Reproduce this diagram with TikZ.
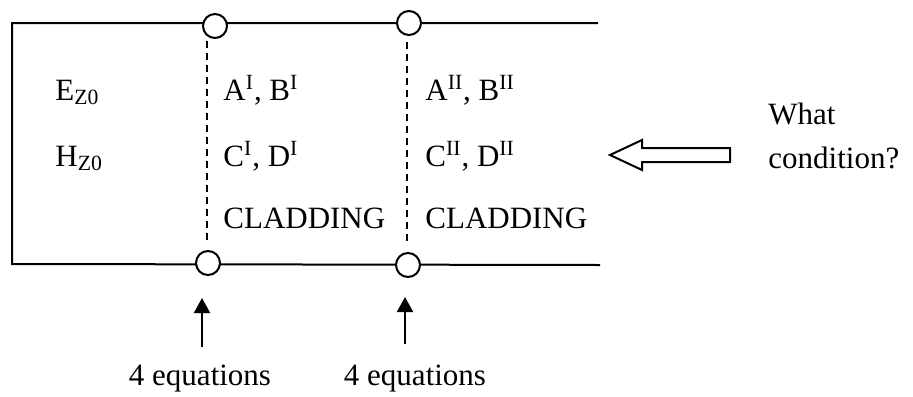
\documentclass[tikz,border=0pt]{standalone}
\usepackage{fontspec}
\setmainfont{Liberation Serif}
\usetikzlibrary{arrows.meta}
\begin{document}
\begin{tikzpicture}[x=0.5pt,y=-0.5pt,
  wire/.style={line width=1pt},
  joint/.style={circle,draw,line width=1pt,fill=white,minimum size=12pt,inner sep=0pt},
  bound/.style={line width=0.75pt,dash pattern=on 3.5pt off 2.5pt},
  lbl/.style={anchor=base west,inner sep=0pt,font=\fontsize{15.5}{18}\selectfont},
  eqn/.style={anchor=base,inner sep=0pt,font=\fontsize{15.5}{18}\selectfont},
  up/.style={line width=1pt,-{Triangle[length=7.5pt,width=8pt]}}]
\useasboundingbox (0,0) rectangle (913,396);
% frame
\coordinate (tr) at (598,23);
\coordinate (tl) at (12,23);
\coordinate (bl) at (12,264);
\coordinate (br) at (600,265);
\draw[wire] (tr) -- (tl) -- (bl) -- (br);
% joints
\node[joint] (t1) at (215,26) {};
\node[joint] (t2) at (409,23) {};
\node[joint] (b1) at (208,263) {};
\node[joint] (b2) at (408,265) {};
% dashed boundaries
\coordinate (d1t) at (207,41);
\coordinate (d1b) at (207,241);
\coordinate (d2t) at (407,42);
\coordinate (d2b) at (407,241);
\draw[bound] (d1t) -- (d1b);
\draw[bound] (d2t) -- (d2b);
% texts
\node[lbl] (ez) at (55,100) {E\textsubscript{Z0}};
\node[lbl] (hz) at (55,166) {H\textsubscript{Z0}};
\node[lbl] (ab1) at (223,100) {A\textsuperscript{I}, B\textsuperscript{I}};
\node[lbl] (cd1) at (223,166) {C\textsuperscript{I}, D\textsuperscript{I}};
\node[lbl] (cl1) at (223,228) {CLADDING};
\node[lbl] (ab2) at (425,100) {A\textsuperscript{II}, B\textsuperscript{II}};
\node[lbl] (cd2) at (425,166) {C\textsuperscript{II}, D\textsuperscript{II}};
\node[lbl] (cl2) at (425,228) {CLADDING};
\node[lbl] (what) at (768,124) {What};
\node[lbl] (cond) at (768,168) {condition?};
% hollow arrow
\draw[line width=1pt,line join=miter] (610,155) -- (642,140) -- (642,148) -- (730,148)
  -- (730,162) -- (642,162) -- (642,170) -- cycle;
% equations
\node[eqn] (eq1) at (200,385) {4 equations};
\node[eqn] (eq2) at (415,385) {4 equations};
\coordinate (a1s) at (202,347);
\coordinate (a1e) at (202,298);
\coordinate (a2s) at (405,344);
\coordinate (a2e) at (405,297);
\draw[up] (a1s) -- (a1e);
\draw[up] (a2s) -- (a2e);
\end{tikzpicture}
\end{document}
